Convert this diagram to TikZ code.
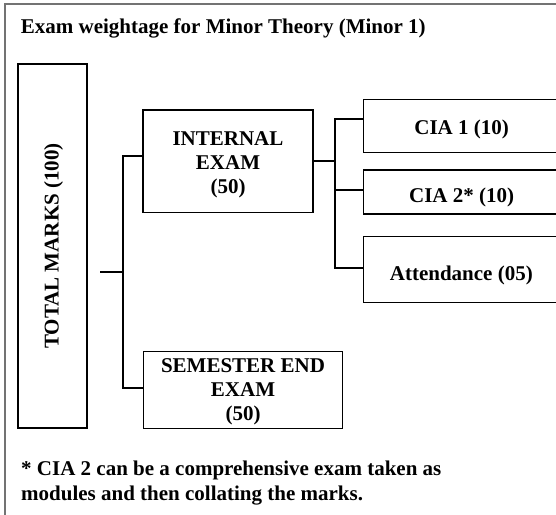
\documentclass[tikz,border=0pt]{standalone}
\usepackage{fontspec}
\setmainfont{Liberation Serif}
\begin{document}
\begin{tikzpicture}[x=1pt,y=-1pt,
  frame/.style={draw=black!55, line width=1.2pt},
  box/.style={draw=black, line width=1.1pt, inner sep=0pt, outer sep=0pt},
  conn/.style={draw=black, line width=2.2pt, line join=miter},
  txt/.style={font=\fontsize{21}{24}\selectfont\bfseries, align=center, inner sep=0pt},
  note/.style={font=\fontsize{21}{24}\selectfont\bfseries, inner sep=0pt, anchor=base west}]
\useasboundingbox (0,0) rectangle (556,514);
\clip (0,0) rectangle (556,514);
% outer frame
\draw[frame] (5,520) -- (5,4) -- (570,4);
% title
\node[note] (title) at (20.7,33.3) {Exam weightage for Minor Theory (Minor 1)};
% boxes
\node[box, minimum width=364pt, minimum height=69pt, rotate=90] (total) at (52.5,246) {};
\node[txt, rotate=90] (totalT) at (53.5,246) {TOTAL MARKS (100)};
\node[box, minimum width=170pt, minimum height=102.5pt] (internal) at (228,161.25) {};
\node[txt] (internalT) at (228,164.5) {INTERNAL\\EXAM\\(50)};
\node[box, minimum width=199.4pt, minimum height=76.6pt] (semester) at (243,390) {};
\node[txt] (semesterT) at (243,392) {SEMESTER END\\EXAM\\(50)};
\node[box, minimum width=197pt, minimum height=53pt] (cia1) at (461.8,125.8) {};
\node[txt, anchor=base] (cia1T) at (461.6,134.3) {CIA 1 (10)};
\node[box, minimum width=197pt, minimum height=44pt] (cia2) at (461.8,192) {};
\node[txt, anchor=base] (cia2T) at (461.6,202.3) {CIA 2* (10)};
\node[box, minimum width=197pt, minimum height=65.6pt] (att) at (461.8,269.5) {};
\node[txt, anchor=base] (attT) at (461.3,280) {Attendance (05)};
% connectors
\coordinate (tj) at (100,272);
\coordinate (s1) at (123,272);
\coordinate (s1a) at (123,156);
\coordinate (s1b) at (123,388);
\draw[conn] (tj) -- (s1);
\draw[conn] (internal.west |- s1a) -- (s1a) -- (s1b) -- (semester.west |- s1b);
\coordinate (s2a) at (335,119.3);
\coordinate (s2b) at (335,190);
\coordinate (s2c) at (335,268);
\draw[conn] (internal.east) -- (internal.east -| s2a);
\draw[conn] (cia1.west |- s2a) -- (s2a) -- (s2c) -- (att.west |- s2c);
\draw[conn] (s2b) -- (cia2.west |- s2b);
% footnote
\node[note] (fn1) at (21,475) {* CIA 2 can be a comprehensive exam taken as};
\node[note] (fn2) at (21,500) {modules and then collating the marks.};
\end{tikzpicture}
\end{document}
